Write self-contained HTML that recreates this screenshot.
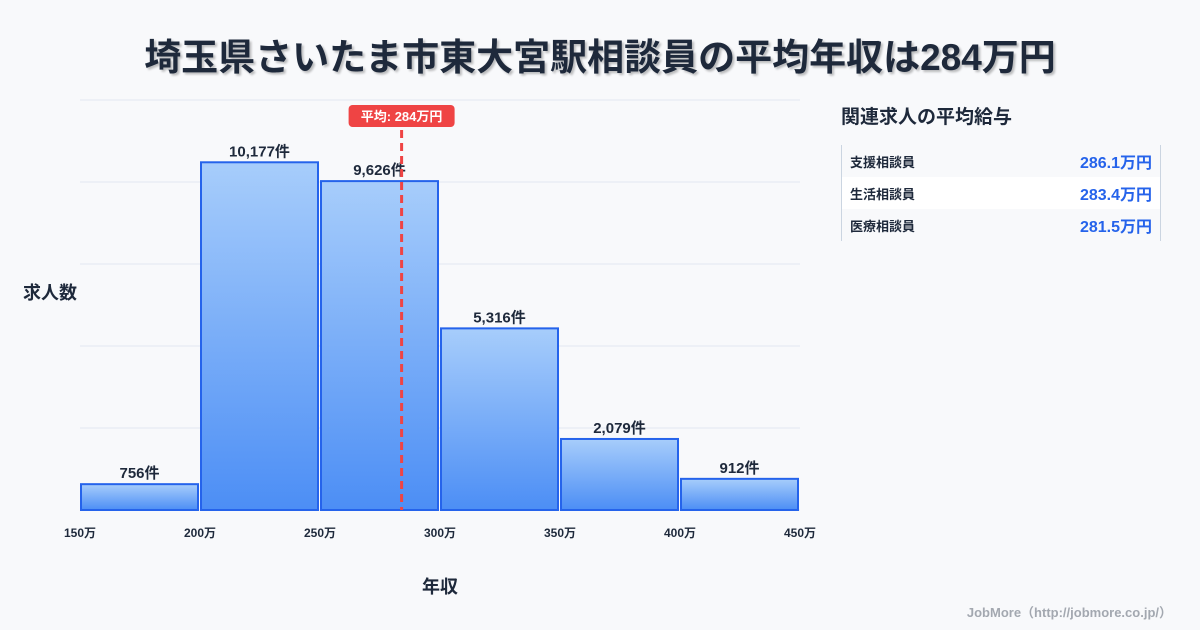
<!DOCTYPE html>
<html><head><meta charset="utf-8"><style>
body{margin:0;width:1200px;height:630px;background:#f8f9fb;font-family:"Liberation Sans","Noto Sans CJK JP",sans-serif;position:relative;overflow:hidden;color:#1e293b}
.title{position:absolute;left:0;width:1200px;top:27px;text-align:center;font-size:37px;font-weight:bold;color:#1e293b;text-shadow:2px 2px 2px rgba(0,0,0,0.25)}
.panel-title{position:absolute;left:841px;top:102px;font-size:19px;font-weight:bold;color:#1e293b}
.panel{position:absolute;left:841px;top:145px;width:318px;border-left:1.5px solid #cbd5e1;border-right:1.5px solid #cbd5e1}
.row{height:32px;display:flex;justify-content:space-between;align-items:center;padding:0 8px}
.row .n{font-size:13px;font-weight:bold;color:#1e293b}
.row .v{font-size:16px;font-weight:bold;color:#2563eb}
.credit{position:absolute;right:28px;top:602px;font-size:13px;font-weight:bold;color:#a3a8b0}
</style></head><body>
<div class="title">埼玉県さいたま市東大宮駅相談員の平均年収は284万円</div>
<svg id="chart" width="1200" height="630" style="position:absolute;left:0;top:0">
<defs><linearGradient id="g" x1="0" y1="0" x2="0" y2="1"><stop offset="0" stop-color="#a7cdfb"/><stop offset="1" stop-color="#4c8ef5"/></linearGradient></defs>
<g id="grid"></g><g id="bars"></g><g id="labels"></g><g id="avg"></g>
<text x="50" y="299" font-size="18" font-weight="bold" fill="#1e293b" text-anchor="middle">求人数</text>
<text x="440" y="593" font-size="18" font-weight="bold" fill="#1e293b" text-anchor="middle">年収</text>
</svg>
<div class="panel-title">関連求人の平均給与</div>
<div class="panel">
<div class="row" style="background:#f8f9fb"><span class="n">支援相談員</span><span class="v">286.1万円</span></div>
<div class="row" style="background:#fff"><span class="n">生活相談員</span><span class="v">283.4万円</span></div>
<div class="row" style="background:#f8f9fb"><span class="n">医療相談員</span><span class="v">281.5万円</span></div>
</div>
<div class="credit">JobMore（http://jobmore.co.jp/）</div>
<script>
const binStarts=[150,200,250,300,350,400];
const binWidth=50;
const counts=[756,10177,9626,5316,2079,912];
const countLabels=["756件","10,177件","9,626件","5,316件","2,079件","912件"];
const xTicks=[150,200,250,300,350,400,450];
const average=284;
const yMax=12000, yStep=2400;
const X=v=>80+(v-150)*(720/300);
const Y=v=>510-v*(410/yMax);
const NS="http://www.w3.org/2000/svg";
function mk(t,a,p){const e=document.createElementNS(NS,t);for(const k in a)e.setAttribute(k,a[k]);p.appendChild(e);return e;}
const grid=document.getElementById('grid'),bars=document.getElementById('bars'),labels=document.getElementById('labels'),avg=document.getElementById('avg');
for(let v=0;v<=yMax;v+=yStep){const l=mk('line',{x1:80,x2:800,y1:Y(v),y2:Y(v),stroke:'#e2e8f0','stroke-width':1},grid);

}
counts.forEach((c,i)=>{const x0=X(binStarts[i])+1,x1=X(binStarts[i]+binWidth)-2;
const r=mk('rect',{x:x0,y:Y(c),width:x1-x0,height:510-Y(c),fill:'url(#g)',stroke:'#2563eb','stroke-width':2},bars);


const t=mk('text',{x:(x0+x1)/2,y:Y(c)-6,'font-size':15,'font-weight':'bold',fill:'#1e293b','text-anchor':'middle'},labels);t.textContent=countLabels[i];

});
xTicks.forEach(v=>{const t=mk('text',{x:X(v),y:537,'font-size':12,'font-weight':'bold',fill:'#1e293b','text-anchor':'middle'},labels);t.textContent=v+'万';

});
const ax=X(average);
const al=mk('line',{x1:ax,x2:ax,y1:130,y2:510,stroke:'#ef4444','stroke-width':3,'stroke-dasharray':'8,5'},avg);


const ab=mk('rect',{x:ax-53,y:105,width:106,height:22,rx:4,fill:'#ef4444'},avg);


const at=mk('text',{x:ax,y:121,'font-size':13,'font-weight':'bold',fill:'#fff','text-anchor':'middle'},avg);at.textContent='平均: '+average+'万円';


</script>
</body></html>
